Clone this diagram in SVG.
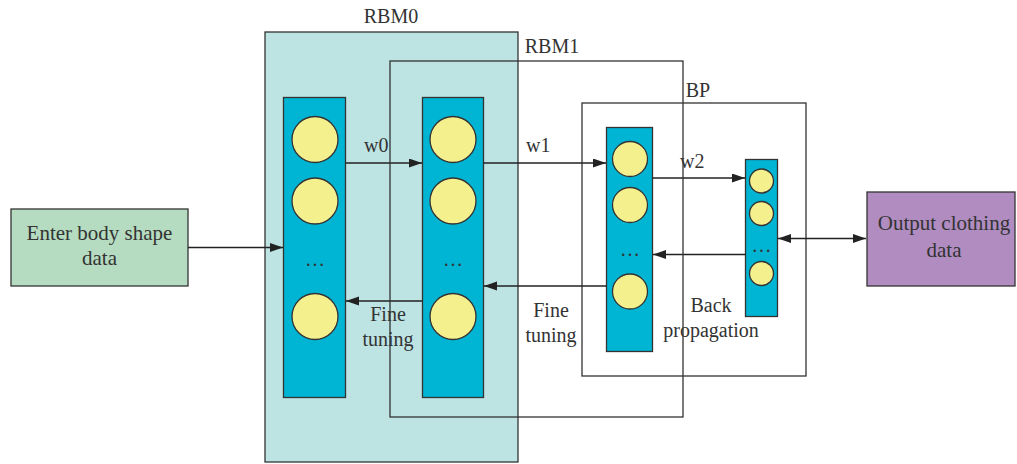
<svg xmlns="http://www.w3.org/2000/svg" width="1017" height="464" viewBox="0 0 1017 464">
<defs>
<marker id="ah" markerUnits="userSpaceOnUse" markerWidth="14" markerHeight="10" refX="13" refY="4.5" orient="auto-start-reverse">
<path d="M0,0 L13,4.5 L0,9 z" fill="#222"/>
</marker>
<style>
.box{stroke:#333;stroke-width:1.3}
.col{fill:#00b5d4;stroke:#333;stroke-width:1.3}
.neu{fill:#f5f08e;stroke:#333;stroke-width:1.3}
.t{font-family:"Liberation Serif",serif;font-size:20px;fill:#333}
.b{font-size:21px}
.c{text-anchor:middle}
.ln{stroke:#222;stroke-width:1.3;fill:none}
</style>
</defs>
<rect width="1017" height="464" fill="#fff"/>
<g id="rbm0">
<rect class="box" x="265" y="32" width="253" height="430" fill="#bde3e3"/>
<text class="t c" x="391" y="23">RBM0</text>
</g>
<g id="bp">
<rect class="box" x="582" y="103" width="224" height="273" fill="none"/>
<text class="t c" x="698" y="97">BP</text>
</g>
<g id="col1">
<rect class="col" x="283.5" y="97.5" width="62" height="300"/>
<circle class="neu" cx="315" cy="139.5" r="23"/>
<circle class="neu" cx="315" cy="201" r="23"/>
<text class="t c" x="315" y="266">…</text>
<circle class="neu" cx="315" cy="316.5" r="23"/>
</g>
<g id="col2">
<rect class="col" x="422.5" y="97.5" width="61" height="300"/>
<circle class="neu" cx="453" cy="139.5" r="23"/>
<circle class="neu" cx="453" cy="201" r="23"/>
<text class="t c" x="453" y="266">…</text>
<circle class="neu" cx="453" cy="316.5" r="23"/>
</g>
<g id="col3">
<rect class="col" x="606.5" y="127.5" width="46" height="224"/>
<circle class="neu" cx="630" cy="159" r="17.5"/>
<circle class="neu" cx="630" cy="205" r="17.5"/>
<text class="t c" x="630" y="256">…</text>
<circle class="neu" cx="630" cy="291.5" r="17.5"/>
</g>
<g id="col4">
<rect class="col" x="745.5" y="159.5" width="32" height="157"/>
<circle class="neu" cx="761.5" cy="181" r="12"/>
<circle class="neu" cx="761.5" cy="213.5" r="12"/>
<text class="t c" x="761.5" y="252">…</text>
<circle class="neu" cx="761.5" cy="273.5" r="12"/>
</g>
<g id="enter">
<rect class="box" x="11" y="209" width="177" height="77" fill="#b5dcc0"/>
<text class="t b c" x="99.5" y="240">Enter body shape</text>
<text class="t b c" x="99.5" y="265">data</text>
</g>
<g id="output">
<rect class="box" x="867" y="192" width="148" height="94" fill="#b08cc1"/>
<text class="t b c" x="944" y="230">Output clothing</text>
<text class="t b c" x="944" y="257">data</text>
</g>
<g id="connectors">
<line class="ln" x1="188" y1="247.5" x2="283" y2="247.5" marker-end="url(#ah)"/>
<line class="ln" x1="345.5" y1="163" x2="422" y2="163" marker-end="url(#ah)"/>
<line class="ln" x1="483.5" y1="163" x2="606" y2="163" marker-end="url(#ah)"/>
<line class="ln" x1="652.5" y1="178" x2="745" y2="178" marker-end="url(#ah)"/>
<line class="ln" x1="745.5" y1="254.5" x2="653" y2="254.5" marker-end="url(#ah)"/>
<line class="ln" x1="606.5" y1="286" x2="484" y2="286" marker-end="url(#ah)"/>
<line class="ln" x1="422.5" y1="301" x2="346" y2="301" marker-end="url(#ah)"/>
<line class="ln" x1="778" y1="238.5" x2="866" y2="238.5" marker-start="url(#ah)" marker-end="url(#ah)"/>
</g>
<g id="labels">
<text class="t" x="364" y="152">w0</text>
<text class="t" x="526" y="152">w1</text>
<text class="t" x="680" y="168">w2</text>
<text class="t c" x="388" y="321">Fine</text>
<text class="t c" x="388" y="346">tuning</text>
<text class="t c" x="551" y="317">Fine</text>
<text class="t c" x="551" y="342">tuning</text>
<text class="t c" x="711" y="312">Back</text>
<text class="t c" x="711" y="337">propagation</text>
</g>
<g id="rbm1">
<rect class="box" x="390" y="61" width="293" height="356" fill="none"/>
<text class="t c" x="552" y="53">RBM1</text>
</g>
</svg>
